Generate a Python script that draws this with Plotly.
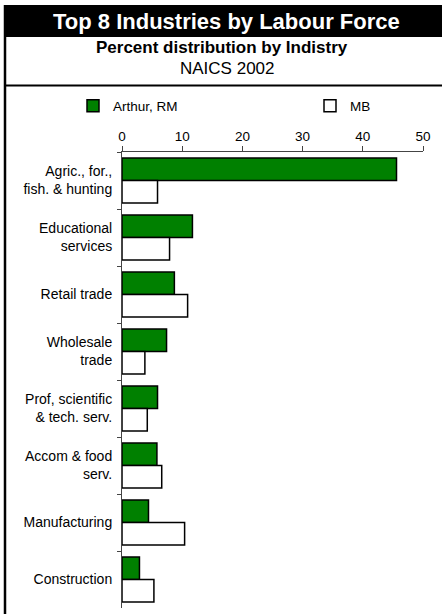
import plotly.graph_objects as go

categories = ["Agric., for.,<br>fish. & hunting", "Educational<br>services", "Retail trade",
              "Wholesale<br>trade", "Prof, scientific<br>& tech. serv.", "Accom & food<br>serv.",
              "Manufacturing", "Construction"]
arthur_rm = [45.6, 11.7, 8.7, 7.4, 5.9, 5.8, 4.4, 2.9]
mb = [5.9, 7.9, 10.9, 3.8, 4.2, 6.6, 10.4, 5.3]
x_ticks = [0, 10, 20, 30, 40, 50]

W, H = 442, 614
L, R, T, B = 122, 19, 152, 6
PW, PH = W - L - R, H - T - B
FONT = "Liberation Sans, Arial, sans-serif"

def px(x):
    return (x - L) / PW

def py(y):
    return (H - B - y) / PH

fig = go.Figure()
fig.add_trace(go.Bar(y=categories, x=arthur_rm, orientation="h", name="Arthur, RM",
                     marker=dict(color="#008000", line=dict(color="#000", width=1.5)),
                     legend="legend", showlegend=True))
fig.add_trace(go.Bar(y=categories, x=mb, orientation="h", name="MB",
                     marker=dict(color="#ffffff", line=dict(color="#000", width=1.5)),
                     legend="legend2", showlegend=True))

fig.update_layout(
    width=W, height=H,
    margin=dict(l=L, r=R, t=T, b=B),
    paper_bgcolor="white", plot_bgcolor="white",
    font=dict(family=FONT, color="#000", size=14),
    showlegend=True,
    barmode="group", bargap=0.21, bargroupgap=0,
    legend=dict(x=px(73), y=py(106), xanchor="left", yanchor="middle", visible=True,
                font=dict(size=13.5), bgcolor="rgba(0,0,0,0)", borderwidth=0),
    legend2=dict(x=px(310), y=py(106), xanchor="left", yanchor="middle", visible=True,
                 font=dict(size=13.5), bgcolor="rgba(0,0,0,0)", borderwidth=0),
    xaxis=dict(range=[0, 50], side="top", tickvals=x_ticks, ticks="outside", ticklen=5,
               tickcolor="#444", showline=True, linecolor="#444", linewidth=1,
               showgrid=False, zeroline=False, tickfont=dict(size=13.5)),
    yaxis=dict(autorange="reversed", tickson="boundaries", ticks="outside", ticklen=4,
               tickcolor="#444", showline=True, linecolor="#444", linewidth=1,
               showgrid=False, tickfont=dict(size=14), ticklabelstandoff=6),
    shapes=[
        dict(type="rect", xref="paper", yref="paper", x0=px(4), x1=px(442), y0=py(37), y1=py(5),
             fillcolor="#000", line=dict(width=0), layer="below"),
        dict(type="line", xref="paper", yref="paper", x0=px(5), x1=px(5), y0=py(614), y1=py(5),
             line=dict(color="#000", width=2.5)),
        dict(type="line", xref="paper", yref="paper", x0=px(4), x1=px(442), y0=py(85.5), y1=py(85.5),
             line=dict(color="#000", width=2)),
    ],
    annotations=[
        dict(text="<b>Top 8 Industries by Labour Force</b>", xref="paper", yref="paper",
             x=px(226.5), y=py(21), xanchor="center", yanchor="middle", showarrow=False,
             font=dict(size=22, color="white")),
        dict(text="<b>Percent distribution by Indistry</b>", xref="paper", yref="paper",
             x=px(222), y=py(48), xanchor="center", yanchor="middle", showarrow=False,
             font=dict(size=17)),
        dict(text="NAICS 2002", xref="paper", yref="paper",
             x=px(227), y=py(68), xanchor="center", yanchor="middle", showarrow=False,
             font=dict(size=17)),
    ],
)

fig.write_html("out.html", config={"displayModeBar": False},
               post_script="document.body.style.margin='0';document.body.style.overflow='hidden';")
